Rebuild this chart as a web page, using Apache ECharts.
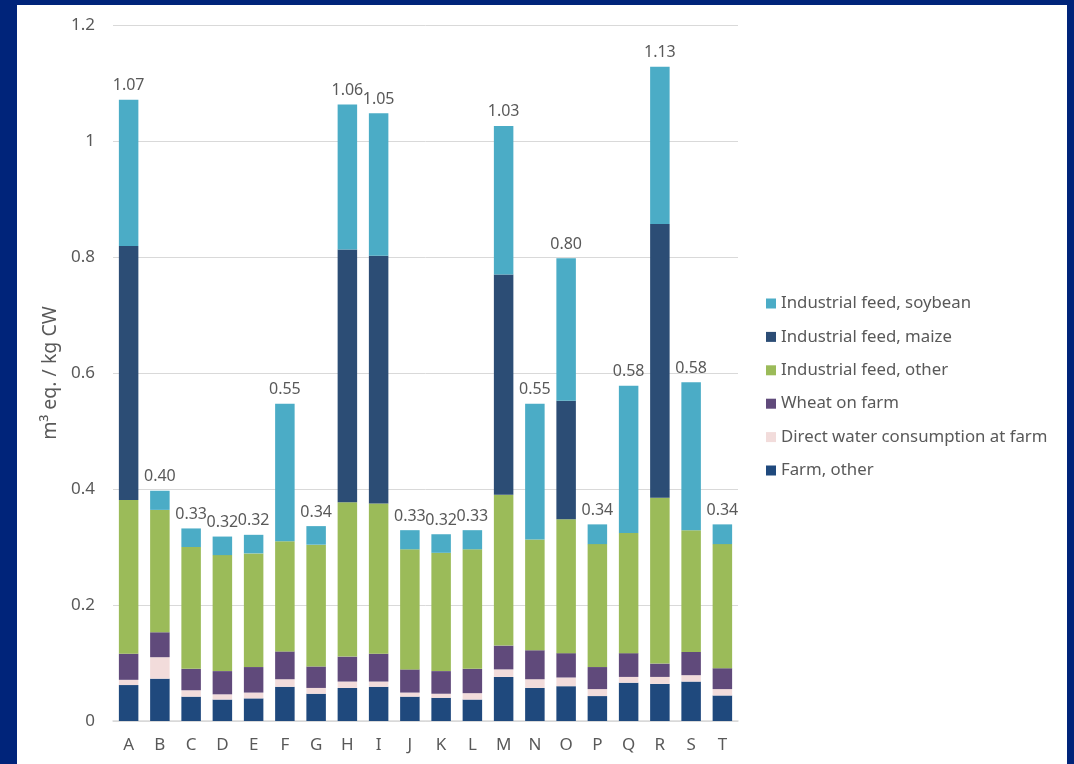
<!DOCTYPE html>
<html>
<head>
<meta charset="utf-8">
<script src="https://cdn.jsdelivr.net/npm/echarts@6/dist/echarts.min.js"></script>
<style>
  html, body { margin: 0; padding: 0; background: #ffffff; }
  #chart { width: 1074px; height: 764px; }
</style>
</head>
<body>
<div id="chart"></div>
<script>
// Water use per kg carcass weight, by farm (A–T), split by source
const categories = ['A','B','C','D','E','F','G','H','I','J','K','L','M','N','O','P','Q','R','S','T'];

const farmOther    = [0.062,0.073,0.042,0.037,0.039,0.059,0.047,0.057,0.059,0.042,0.040,0.037,0.076,0.057,0.060,0.043,0.066,0.064,0.068,0.044];
const directWater  = [0.009,0.037,0.011,0.009,0.010,0.013,0.010,0.011,0.009,0.007,0.007,0.011,0.013,0.015,0.015,0.012,0.010,0.012,0.011,0.011];
const wheatOnFarm  = [0.045,0.043,0.037,0.040,0.044,0.048,0.037,0.043,0.048,0.040,0.039,0.042,0.041,0.050,0.042,0.038,0.041,0.023,0.040,0.036];
const feedOther    = [0.265,0.211,0.210,0.200,0.196,0.190,0.210,0.266,0.259,0.207,0.204,0.206,0.260,0.191,0.231,0.212,0.207,0.286,0.210,0.214];
const feedMaize    = [0.438,0,0,0,0,0,0,0.436,0.427,0,0,0,0.380,0,0.204,0,0,0.472,0,0];
const feedSoybean  = [0.252,0.033,0.032,0.032,0.032,0.237,0.032,0.250,0.246,0.033,0.032,0.033,0.256,0.234,0.246,0.034,0.254,0.271,0.255,0.034];

const yTicks = { min: 0, max: 1.2, interval: 0.2 };

const seriesDefs = [
  { name: 'Farm, other',                      data: farmOther,   color: '#1F497D' },
  { name: 'Direct water consumption at farm', data: directWater, color: '#F2DCDB' },
  { name: 'Wheat on farm',                    data: wheatOnFarm, color: '#604A7B' },
  { name: 'Industrial feed, other',           data: feedOther,   color: '#9BBB59' },
  { name: 'Industrial feed, maize',           data: feedMaize,   color: '#2C4D75' },
  { name: 'Industrial feed, soybean',         data: feedSoybean, color: '#4BACC6' }
];

// stack totals shown above each bar
const totals = categories.map((_, i) =>
  Math.round(seriesDefs.reduce((s, d) => s + d.data[i], 0) * 1000) / 1000
);

const FONT = '"Noto Sans", "Open Sans", sans-serif';
const TXT = '#595959';

const series = seriesDefs.map((d, idx) => {
  const s = {
    name: d.name,
    type: 'bar',
    stack: 'total',
    barWidth: 19.5,
    data: d.data,
    itemStyle: { color: d.color },
    emphasis: { disabled: true }
  };
  if (idx === seriesDefs.length - 1) {
    s.label = {
      show: true,
      position: 'top',
      distance: 6,
      fontFamily: FONT,
      fontSize: 16,
      color: TXT,
      formatter: p => totals[p.dataIndex].toFixed(2)
    };
  }
  return s;
});

const chart = echarts.init(document.getElementById('chart'), null, { renderer: 'canvas' });
chart.setOption({
  animation: false,
  backgroundColor: '#ffffff',
  textStyle: { fontFamily: FONT },
  graphic: [
    // dark blue slide frame
    { type: 'rect', left: 0, top: 0, shape: { width: 17, height: 764 }, style: { fill: '#00247A' }, z: 100 },
    { type: 'rect', left: 0, top: 0, shape: { width: 1074, height: 5 }, style: { fill: '#00247A' }, z: 100 },
    { type: 'rect', left: 1067, top: 0, shape: { width: 7, height: 764 }, style: { fill: '#00247A' }, z: 100 }
  ],
  grid: { left: 113, right: 336, top: 25, bottom: 43 },
  legend: {
    orient: 'vertical',
    left: 766,
    top: 295,
    padding: 0,
    itemWidth: 10,
    itemHeight: 10,
    itemGap: 16.4,
    icon: 'rect',
    selectedMode: false,
    data: seriesDefs.map(d => d.name).reverse(),
    textStyle: { fontFamily: FONT, fontSize: 16.8, color: TXT, lineHeight: 16 }
  },
  xAxis: {
    type: 'category',
    data: categories,
    axisLine: { lineStyle: { color: '#d9d9d9', width: 1.5 } },
    axisTick: { show: false },
    axisLabel: { color: TXT, fontFamily: FONT, fontSize: 17, margin: 16 }
  },
  yAxis: {
    type: 'value',
    min: yTicks.min,
    max: yTicks.max,
    interval: yTicks.interval,
    name: 'm³ eq. / kg CW',
    nameLocation: 'middle',
    nameGap: 41,
    nameTextStyle: { color: TXT, fontFamily: FONT, fontSize: 19.5 },
    axisLine: { show: false },
    axisTick: { show: false },
    splitLine: { lineStyle: { color: '#d9d9d9', width: 1 } },
    axisLabel: { color: TXT, fontFamily: FONT, fontSize: 17, margin: 18 }
  },
  series: series
});
</script>
</body>
</html>
